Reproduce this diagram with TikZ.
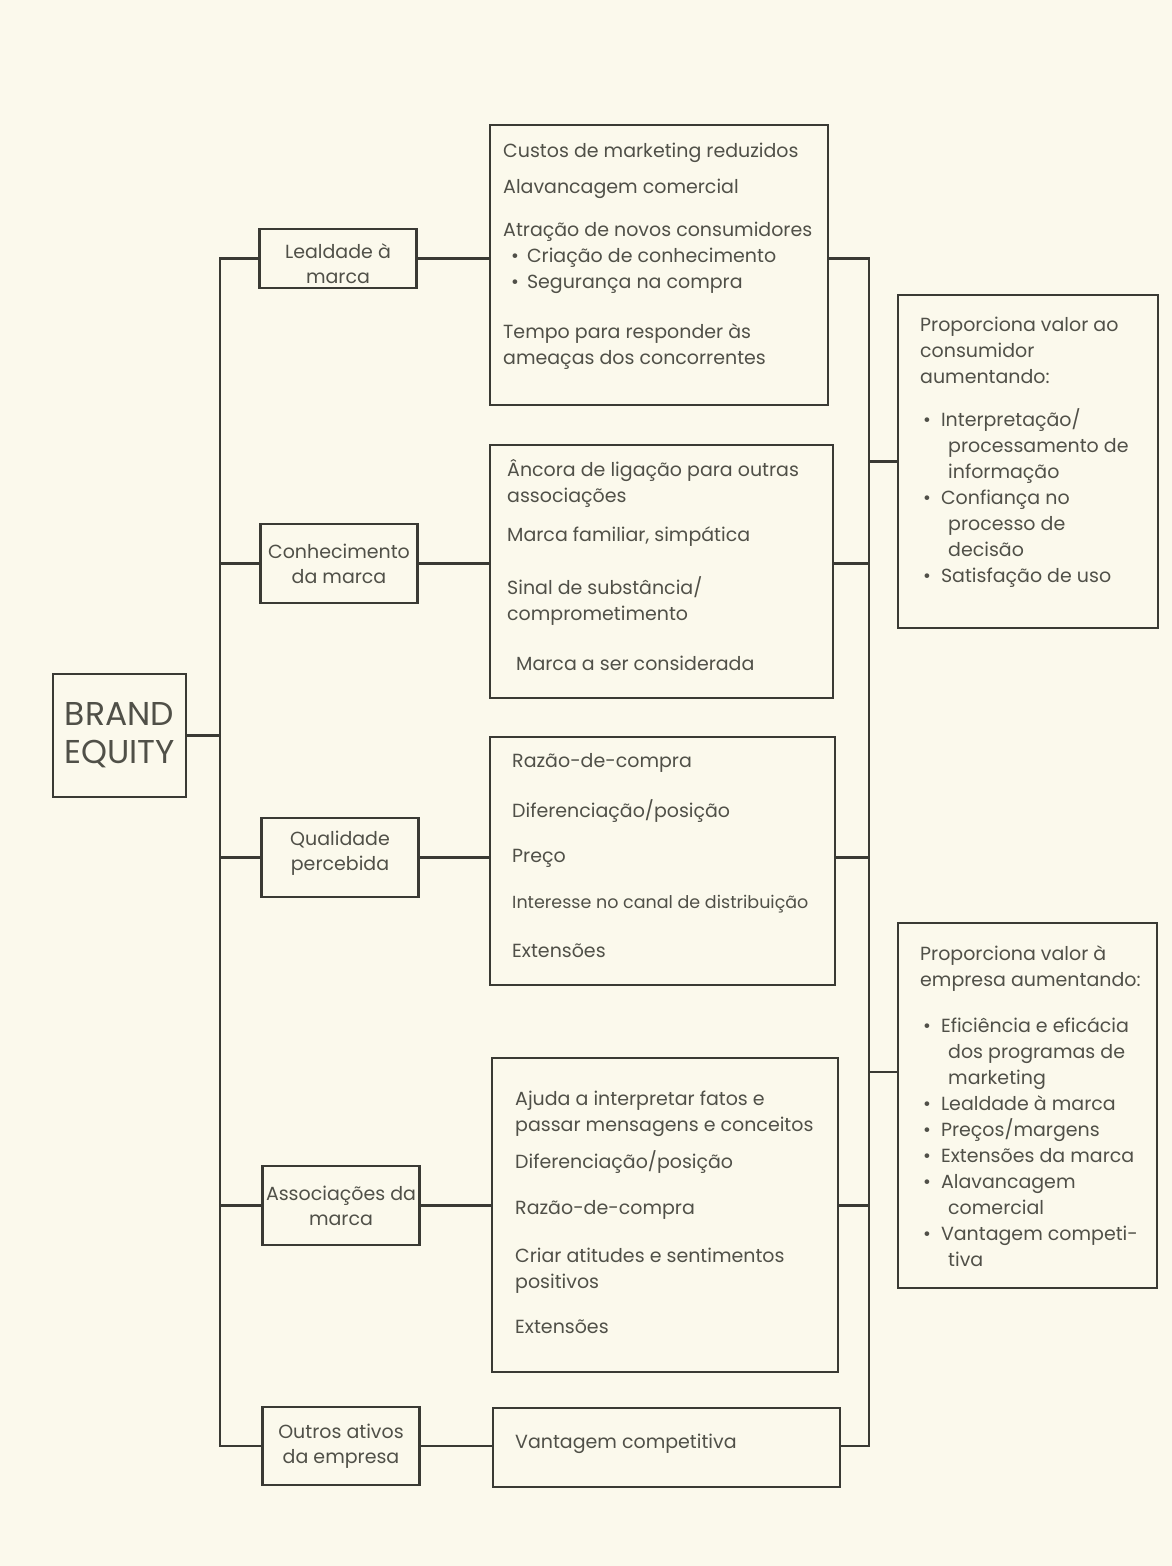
\documentclass[tikz,border=0pt]{standalone}
\usepackage{fontspec}
\setmainfont{Poppins}
\usepackage{xcolor}
\definecolor{paper}{RGB}{251,249,236}
\definecolor{ink}{RGB}{58,58,52}
\definecolor{txt}{RGB}{80,80,72}

\begin{document}
\begin{tikzpicture}[x=1pt, y=-1pt,
  link/.style={draw=ink, line width=2.2pt},
  bigbox/.style={draw=ink, line width=2.2pt, inner sep=0pt},
  smallbox/.style={draw=ink, line width=2.2pt, inner sep=0pt, align=center, text=txt,
    minimum width=157, minimum height=79, font=\fontsize{19}{25}\selectfont},
  boxtext/.style={anchor=north west, inner sep=0pt, align=left, text=txt,
    font=\fontsize{19}{26}\selectfont},
]
  \fill[paper] (0,0) rectangle (1172,1566);

  % left column
  \node[smallbox, minimum width=133, minimum height=123, font=\fontsize{33}{38}\selectfont]
    (be) at (119.5,735.5) {BRAND\\EQUITY};
  \node[smallbox, minimum height=59] (lea) at (338,258.5) {\rule{0pt}{26pt}Lealdade à\\marca};
  \node[smallbox] (con) at (339,563.5) {Conhecimento\\da marca};
  \node[smallbox] (qua) at (340,857.5) {Qualidade\\percebida\rule[-14pt]{0pt}{0pt}};
  \node[smallbox] (ass) at (341,1205.5) {Associações da\\marca};
  \node[smallbox, minimum height=78] (out) at (341,1446) {Outros ativos\\da empresa};

  % middle column
  \node[bigbox, minimum width=338, minimum height=280] (b1) at (659,265) {};
  \node[bigbox, minimum width=343, minimum height=253] (b2) at (661.5,571.5) {};
  \node[bigbox, minimum width=345, minimum height=248] (b3) at (662.5,861) {};
  \node[bigbox, minimum width=346, minimum height=314] (b4) at (665,1215) {};
  \node[bigbox, minimum width=347, minimum height=79] (b5) at (666.5,1447.5) {};

  \node[boxtext] (t1) at (503,143) {Custos de marketing reduzidos\\[10pt]
    Alavancagem comercial\\[17pt]
    Atração de novos consumidores\\
    \hspace*{8pt}\textbullet\hspace{8pt}Criação de conhecimento\\
    \hspace*{8pt}\textbullet\hspace{8pt}Segurança na compra\\[24pt]
    Tempo para responder às\\
    ameaças dos concorrentes};
  \node[boxtext] (t2) at (507,459) {Âncora de ligação para outras\\
    associações\\[13pt]
    Marca familiar, simpática\\[27pt]
    Sinal de substância/\\
    comprometimento\\[24pt]
    \hspace*{9pt}Marca a ser considerada};
  \node[boxtext] (t3) at (512,753) {Razão-de-compra\\[24pt]
    Diferenciação/posição\\[19pt]
    Preço\\[20pt]
    {\fontsize{17.5}{26}\selectfont Interesse no canal de distribuição}\\[23pt]
    Extensões};
  \node[boxtext] (t4) at (515,1091) {Ajuda a interpretar fatos e\\
    passar mensagens e conceitos\\[11pt]
    Diferenciação/posição\\[20pt]
    Razão-de-compra\\[22pt]
    Criar atitudes e sentimentos\\
    positivos\\[19pt]
    Extensões};
  \node[boxtext] (t5) at (515,1434) {Vantagem competitiva};

  % right column
  \node[bigbox, minimum width=260, minimum height=333] (vc) at (1028,461.5) {};
  \node[bigbox, minimum width=259, minimum height=365] (ve) at (1027.5,1105.5) {};

  \node[boxtext] (tc) at (920,317) {Proporciona valor ao\\
    consumidor\\
    aumentando:\\[17pt]
    \hspace*{3pt}\textbullet\hspace{10pt}Interpretação/\\
    \hspace*{28pt}processamento de\\
    \hspace*{28pt}informação\\
    \hspace*{3pt}\textbullet\hspace{10pt}Confiança no\\
    \hspace*{28pt}processo de\\
    \hspace*{28pt}decisão\\
    \hspace*{3pt}\textbullet\hspace{10pt}Satisfação de uso};
  \node[boxtext] (te) at (920,945) {Proporciona valor à\\
    empresa aumentando:\\[20pt]
    \hspace*{3pt}\textbullet\hspace{10pt}Eficiência e eficácia\\
    \hspace*{28pt}dos programas de\\
    \hspace*{28pt}marketing\\
    \hspace*{3pt}\textbullet\hspace{10pt}Lealdade à marca\\
    \hspace*{3pt}\textbullet\hspace{10pt}Preços/margens\\
    \hspace*{3pt}\textbullet\hspace{10pt}Extensões da marca\\
    \hspace*{3pt}\textbullet\hspace{10pt}Alavancagem\\
    \hspace*{28pt}comercial\\
    \hspace*{3pt}\textbullet\hspace{10pt}Vantagem competi-\\
    \hspace*{28pt}tiva};

  % connectors
  \coordinate (lt) at (220,0);
  \coordinate (rt) at (869,0);
  \coordinate (ej) at (0,1072);
  \draw[link] (be) -- (be -| lt);
  \draw[link] (lea) -- (lea -| lt) -- (out -| lt) -- (out);
  \draw[link] (lea -| b1.east) -- (lea -| rt) -- (out -| rt) -- (out -| b5.east);
  \foreach \n/\b in {lea/b1, con/b2, qua/b3, ass/b4, out/b5} {
    \draw[link] (\n) -- (\n -| \b.west);
  }
  \foreach \n/\b in {con/b2, qua/b3, ass/b4} {
    \draw[link] (\n -| lt) -- (\n);
    \draw[link] (\n -| \b.east) -- (\n -| rt);
  }
  \draw[link] (vc -| rt) -- (vc);
  \draw[link] (ej -| rt) -- (ej -| ve.west);
\end{tikzpicture}
\end{document}
